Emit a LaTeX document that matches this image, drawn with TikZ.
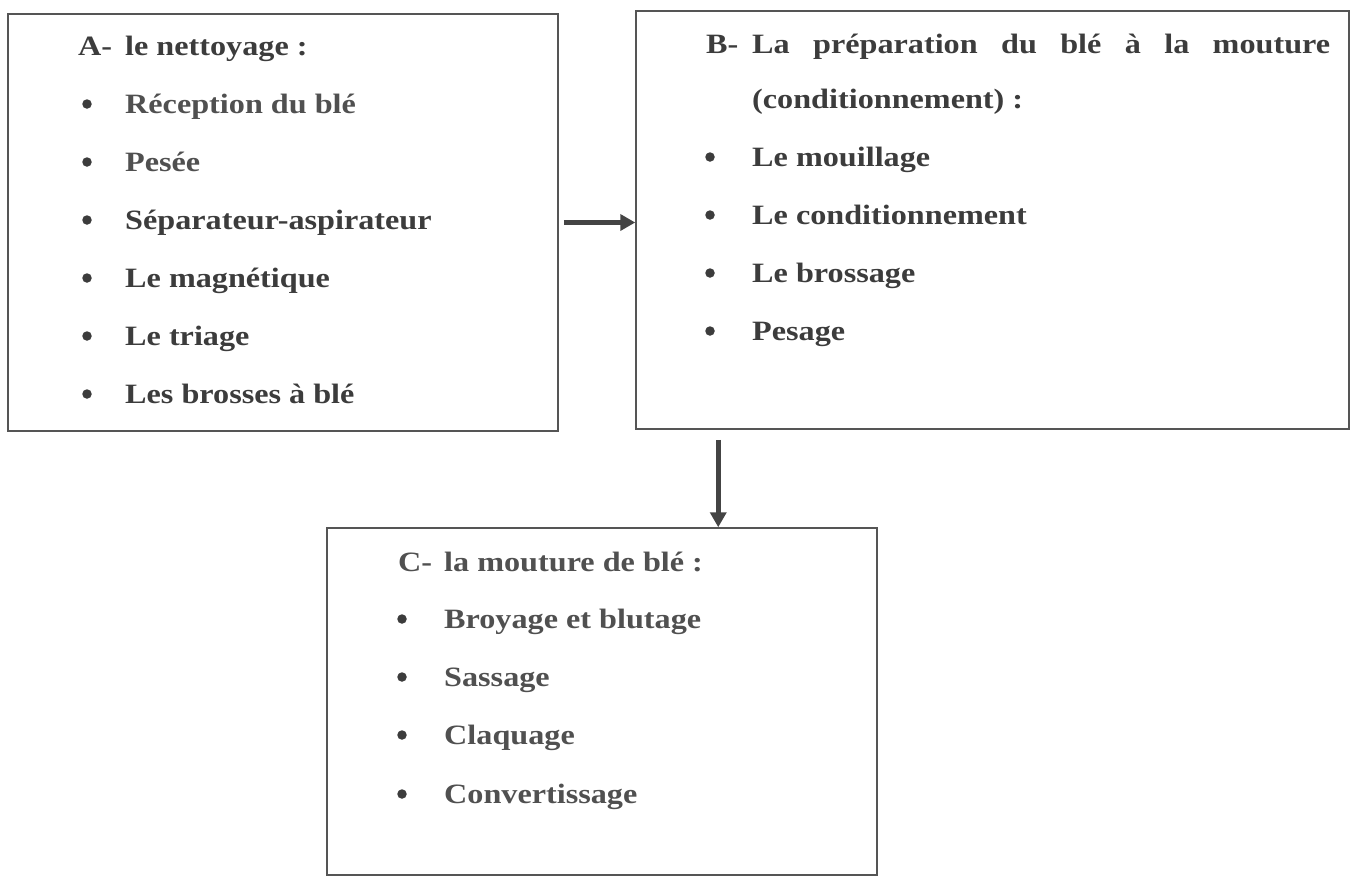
\documentclass[tikz,border=0pt]{standalone}
\usepackage{fontspec}
\newfontfamily\boxfont{Liberation Serif}[FakeStretch=1.15]
\usetikzlibrary{arrows.meta}
\definecolor{ink}{HTML}{3C3C3C}
\definecolor{softink}{HTML}{505050}
\definecolor{frame}{HTML}{555555}
\definecolor{arrowink}{HTML}{444444}
\tikzset{
  stagebox/.style={draw=frame, line width=1.5pt, rectangle, inner sep=0pt, fill=none},
  txt/.style={anchor=base west, inner sep=0pt, text=ink,
    font=\boxfont\bfseries\fontsize{28}{34}\selectfont},
  softtxt/.style={txt, text=softink},
  dot/.style={circle, fill=ink, inner sep=0pt, minimum size=9.5pt},
  arr/.style={draw=arrowink, line width=4.5pt,
    -{Triangle[length=15pt,width=16pt]}},
}
\begin{document}
\begin{tikzpicture}[x=1pt,y=-1pt]
\useasboundingbox (0,0) rectangle (1352,876);

% the three stages
\node[stagebox, minimum width=550pt, minimum height=417pt] (A) at (283,222.5) {};
\node[stagebox, minimum width=713pt, minimum height=418pt] (B) at (992.5,220) {};
\node[stagebox, minimum width=550pt, minimum height=347pt] (C) at (602,701.5) {};

% stage A
\node[txt] (a0) at (78,55) {A-};
\node[txt] (a0t) at (125,55) {le nettoyage :};
\foreach \y/\t/\s [count=\i] in {113/Réception du blé/softtxt, 171/Pesée/softtxt,
    229/Séparateur-aspirateur/txt, 287/Le magnétique/txt,
    345/Le triage/txt, 403/Les brosses à blé/txt}{
  \node[dot] (ad\i) at (87,\y-9) {};
  \node[\s] (a\i) at (125,\y) {\t};
}

% stage B
\node[txt] (b0) at (706,53) {B-};
\node[txt] (b0t) at (752,53)
  {\hbox to 578pt{La\hfill préparation\hfill du\hfill blé\hfill à\hfill la\hfill mouture}};
\node[txt] (b0u) at (752,108) {(conditionnement) :};
\foreach \y/\t [count=\i] in {166/Le mouillage, 224/Le conditionnement,
    282/Le brossage, 340/Pesage}{
  \node[dot] (bd\i) at (710,\y-9) {};
  \node[txt] (b\i) at (752,\y) {\t};
}

% stage C
\node[softtxt] (c0) at (398,571) {C-};
\node[softtxt] (c0t) at (444,571) {la mouture de blé :};
\foreach \y/\t [count=\i] in {628/Broyage et blutage, 686/Sassage,
    744/Claquage, 803/Convertissage}{
  \node[dot] (cd\i) at (402,\y-9) {};
  \node[softtxt] (c\i) at (444,\y) {\t};
}

% flow between stages
\draw[arr] ([xshift=5pt]A.east) -- (B.west |- A.east);
\draw[arr] ([xshift=83pt,yshift=-10pt]B.south west) coordinate (d0) -- (d0 |- C.north);
\end{tikzpicture}
\end{document}
